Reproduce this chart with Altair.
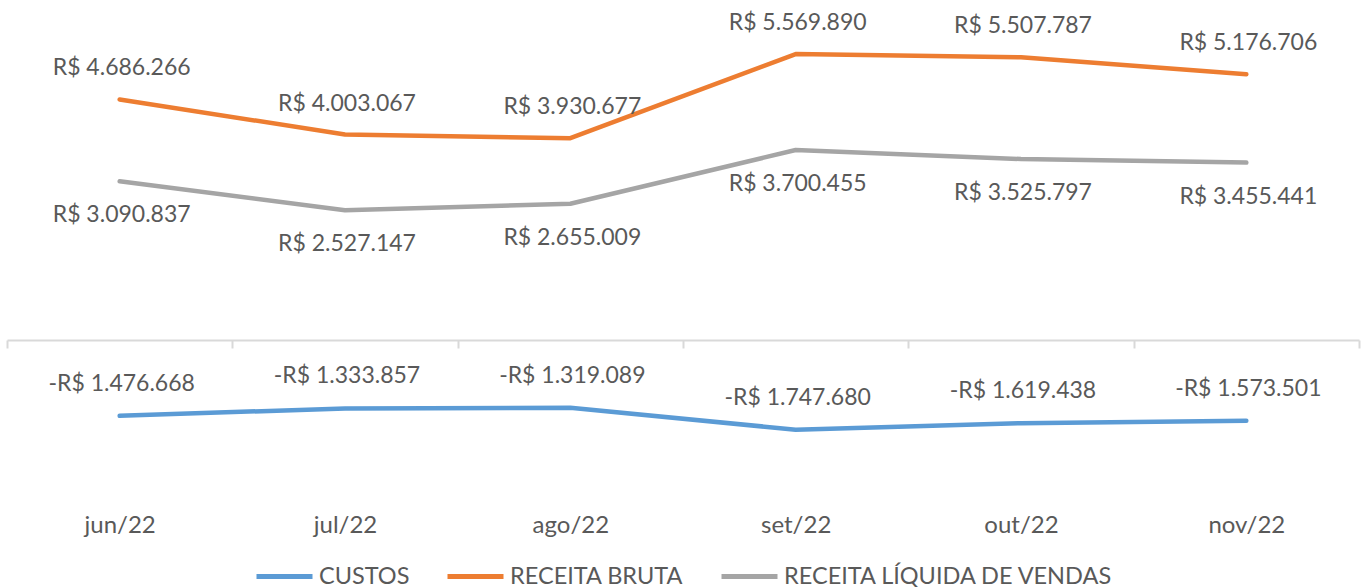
import altair as alt
import pandas as pd

months = ["jun/22", "jul/22", "ago/22", "set/22", "out/22", "nov/22"]
custos = [-1476668, -1333857, -1319089, -1747680, -1619438, -1573501]
receita_bruta = [4686266, 4003067, 3930677, 5569890, 5507787, 5176706]
receita_liquida = [3090837, 2527147, 2655009, 3700455, 3525797, 3455441]

series_names = ["CUSTOS", "RECEITA BRUTA", "RECEITA LÍQUIDA DE VENDAS"]
series_colors = ["#5B9BD5", "#ED7D31", "#A5A5A5"]


def brl(v):
    s = "R$ " + f"{abs(v):,}".replace(",", ".")
    return ("-" + s) if v < 0 else s


rows = []
for name, vals in zip(series_names, [custos, receita_bruta, receita_liquida]):
    for m, v in zip(months, vals):
        rows.append({"month": m, "series": name, "value": v, "label": brl(v)})
df = pd.DataFrame(rows)

FONT = "Lato"
TXT = "#595959"

x_enc = alt.X(
    "month:N",
    sort=months,
    bandPosition=0.5,
    scale=alt.Scale(type="band", paddingInner=0, paddingOuter=0),
    axis=alt.Axis(
        title=None,
        orient="bottom",
        offset=-154,
        domainColor="#D9D9D9",
        domainWidth=2,
        tickColor="#D9D9D9",
        tickWidth=2,
        tickSize=8,
        tickBand="extent",
        labelAngle=0,
        labelPadding=165,
        labelFont=FONT,
        labelFontSize=24,
        labelFontWeight="normal",
        labelColor=TXT,
        grid=False,
    ),
)
y_enc = alt.Y("value:Q", scale=alt.Scale(domain=[-3000000, 6000000], nice=False, zero=False), axis=None)

base = alt.Chart(df)

lines = base.mark_line(strokeWidth=4.5, strokeCap="round", strokeJoin="round").encode(
    x=x_enc,
    y=y_enc,
    color=alt.Color(
        "series:N",
        scale=alt.Scale(domain=series_names, range=series_colors),
        legend=alt.Legend(
            title=None,
            orient="none",
            direction="horizontal",
            legendX=247,
            legendY=514,
            symbolType="stroke",
            symbolSize=3136,
            symbolStrokeWidth=5,
            labelFont=FONT,
            labelFontSize=23.5,
            labelFontWeight="normal",
            labelColor=TXT,
            labelOffset=4,
            labelLimit=500,
            columnPadding=27,
        ),
    ),
)


def labels(name, dy):
    return base.transform_filter(alt.datum.series == name).mark_text(
        font=FONT, fontSize=23, color=TXT, dy=dy, dx=2, baseline="middle"
    ).encode(x=x_enc, y=y_enc, text="label:N")


chart = alt.layer(
    lines,
    labels("CUSTOS", -32),
    labels("RECEITA BRUTA", -31),
    labels("RECEITA LÍQUIDA DE VENDAS", 34),
).properties(
    width=1352,
    height=462,
    autosize=alt.AutoSizeParams(type="none"),
    padding={"left": 7, "top": 32, "right": 2, "bottom": 93},
).configure_view(stroke=None)

chart.save("out.html", embed_options={"renderer": "svg", "actions": False})
